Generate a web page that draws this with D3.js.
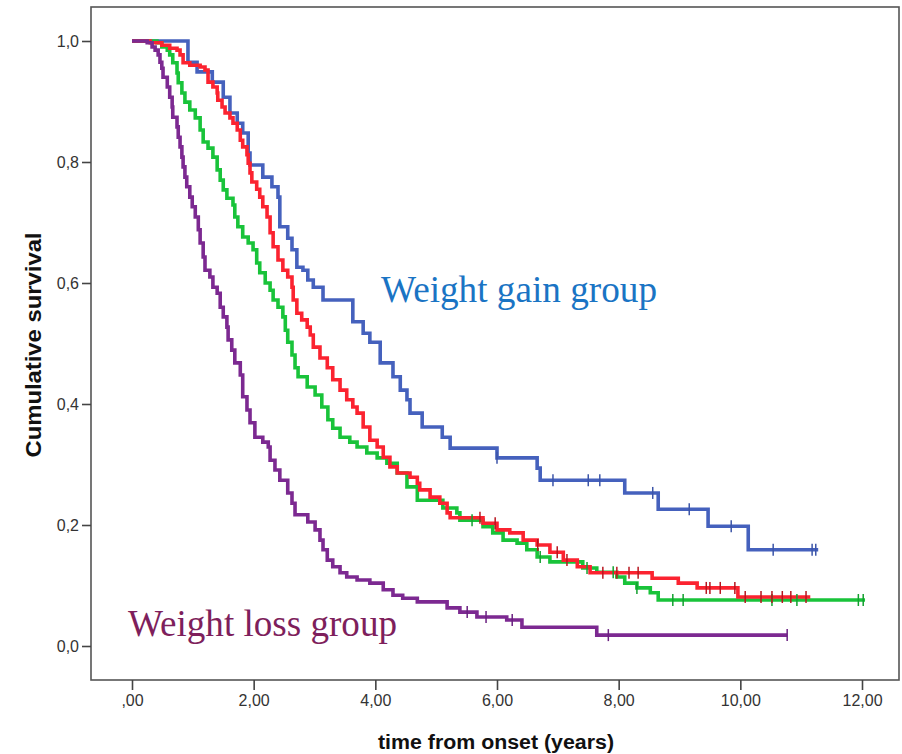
<!DOCTYPE html>
<html lang="en">
<head>
  <meta charset="utf-8">
  <title>Kaplan-Meier weight groups</title>
  <script src="https://cdn.jsdelivr.net/npm/d3@7"></script>
  <style>
    body { margin: 0; background: #fff; }
    svg { display: block; }
  </style>
</head>
<body>
<script>
// tick values and labels
const xTicks = [0, 2, 4, 6, 8, 10, 12];
const xTickLabels = [",00", "2,00", "4,00", "6,00", "8,00", "10,00", "12,00"];
const yTicks = [0, 0.2, 0.4, 0.6, 0.8, 1.0];
const yTickLabels = ["0,0", "0,2", "0,4", "0,6", "0,8", "1,0"];

// step points [time, survival]
const gainSteps = [
  [0, 1], [0.92, 0.965], [1.07, 0.949], [1.32, 0.932], [1.50, 0.907], [1.61, 0.881],
  [1.73, 0.864], [1.82, 0.848], [1.91, 0.815], [1.94, 0.795], [2.15, 0.775], [2.30, 0.759],
  [2.40, 0.742], [2.43, 0.693], [2.56, 0.674], [2.63, 0.655], [2.71, 0.626], [2.81, 0.621],
  [2.89, 0.605], [2.98, 0.593], [3.14, 0.572], [3.63, 0.536], [3.80, 0.517], [3.91, 0.502],
  [4.08, 0.468], [4.29, 0.445], [4.41, 0.423], [4.52, 0.407], [4.57, 0.385], [4.77, 0.362],
  [5.10, 0.345], [5.23, 0.327], [6.00, 0.311], [6.66, 0.294], [6.71, 0.274], [8.10, 0.253],
  [8.65, 0.226], [9.47, 0.198], [10.13, 0.159], [11.28, 0.159]
];
const gainCensored = [6.00, 6.92, 7.50, 7.69, 8.56, 9.16, 9.85, 10.54, 11.18, 11.24];

const midSteps = [
  [0, 1], [0.30, 0.997], [0.49, 0.993], [0.62, 0.988], [0.74, 0.985], [0.79, 0.977],
  [0.84, 0.964], [0.95, 0.960], [1.12, 0.957], [1.20, 0.952], [1.25, 0.932], [1.33, 0.924],
  [1.40, 0.914], [1.41, 0.902], [1.48, 0.891], [1.53, 0.881], [1.61, 0.873], [1.66, 0.864],
  [1.73, 0.853], [1.78, 0.836], [1.82, 0.825], [1.89, 0.812], [1.91, 0.798], [1.94, 0.782],
  [1.97, 0.767], [2.05, 0.755], [2.10, 0.742], [2.15, 0.726], [2.22, 0.709], [2.27, 0.683],
  [2.32, 0.660], [2.40, 0.638], [2.48, 0.621], [2.56, 0.610], [2.63, 0.593], [2.65, 0.572],
  [2.71, 0.550], [2.79, 0.539], [2.88, 0.527], [2.93, 0.514], [2.98, 0.494], [3.09, 0.476],
  [3.21, 0.460], [3.30, 0.440], [3.42, 0.423], [3.53, 0.407], [3.63, 0.395], [3.70, 0.385],
  [3.80, 0.362], [3.91, 0.340], [4.03, 0.329], [4.13, 0.312], [4.24, 0.296], [4.36, 0.286],
  [4.57, 0.279], [4.69, 0.269], [4.73, 0.258], [4.90, 0.246], [5.06, 0.236], [5.18, 0.220],
  [5.23, 0.212], [5.77, 0.203], [6.00, 0.192], [6.21, 0.187], [6.43, 0.175], [6.66, 0.167],
  [6.87, 0.155], [7.09, 0.142], [7.32, 0.131], [7.53, 0.121], [8.55, 0.112], [8.98, 0.104],
  [9.29, 0.096], [9.96, 0.081], [11.15, 0.081]
];
const midCensored = [5.72, 5.97, 6.67, 6.99, 7.15, 7.74, 7.97, 8.17, 8.32, 9.44, 9.50,
  9.67, 9.91, 10.08, 10.34, 10.52, 10.69, 10.83, 11.08];

const stableSteps = [
  [0, 1], [0.41, 0.997], [0.49, 0.990], [0.58, 0.985], [0.62, 0.977], [0.67, 0.964],
  [0.74, 0.947], [0.76, 0.931], [0.82, 0.914], [0.87, 0.899], [0.95, 0.886], [1.04, 0.873],
  [1.12, 0.853], [1.17, 0.833], [1.25, 0.823], [1.33, 0.808], [1.40, 0.787], [1.45, 0.770],
  [1.50, 0.754], [1.56, 0.740], [1.66, 0.729], [1.69, 0.709], [1.74, 0.693], [1.82, 0.676],
  [1.91, 0.666], [1.99, 0.655], [2.05, 0.633], [2.10, 0.617], [2.19, 0.600], [2.27, 0.588],
  [2.32, 0.572], [2.40, 0.560], [2.48, 0.544], [2.52, 0.522], [2.56, 0.502], [2.63, 0.481],
  [2.68, 0.460], [2.73, 0.445], [2.88, 0.428], [3.01, 0.415], [3.12, 0.395], [3.22, 0.374],
  [3.30, 0.360], [3.42, 0.345], [3.58, 0.337], [3.70, 0.329], [3.86, 0.319], [4.03, 0.311],
  [4.19, 0.302], [4.36, 0.286], [4.52, 0.263], [4.69, 0.241], [5.11, 0.228], [5.34, 0.220],
  [5.39, 0.208], [5.77, 0.197], [5.93, 0.187], [6.10, 0.175], [6.33, 0.170], [6.49, 0.159],
  [6.66, 0.147], [6.87, 0.139], [7.41, 0.129], [7.64, 0.122], [7.97, 0.114], [8.10, 0.104],
  [8.30, 0.096], [8.52, 0.088], [8.65, 0.076], [12.05, 0.076]
];
const stableCensored = [5.59, 6.71, 7.48, 7.91, 8.30, 8.89, 9.06, 10.52, 10.93, 11.94, 12.02];

const lossSteps = [
  [0, 1], [0.25, 0.997], [0.33, 0.990], [0.38, 0.985], [0.43, 0.977], [0.46, 0.965],
  [0.49, 0.955], [0.51, 0.940], [0.58, 0.924], [0.62, 0.907], [0.66, 0.891], [0.67, 0.874],
  [0.74, 0.858], [0.76, 0.841], [0.79, 0.825], [0.82, 0.808], [0.84, 0.792], [0.87, 0.775],
  [0.90, 0.759], [0.95, 0.742], [0.99, 0.726], [1.04, 0.709], [1.09, 0.688], [1.12, 0.666],
  [1.17, 0.643], [1.20, 0.621], [1.28, 0.610], [1.33, 0.593], [1.40, 0.583], [1.45, 0.560],
  [1.50, 0.544], [1.56, 0.527], [1.58, 0.506], [1.64, 0.489], [1.69, 0.468], [1.78, 0.448],
  [1.82, 0.412], [1.89, 0.390], [1.94, 0.369], [2.02, 0.345], [2.15, 0.337], [2.24, 0.329],
  [2.27, 0.307], [2.35, 0.291], [2.43, 0.274], [2.56, 0.253], [2.63, 0.236], [2.68, 0.217],
  [2.89, 0.205], [3.01, 0.192], [3.09, 0.175], [3.14, 0.159], [3.21, 0.142], [3.30, 0.131],
  [3.42, 0.121], [3.53, 0.114], [3.70, 0.109], [3.91, 0.104], [4.13, 0.093], [4.29, 0.084],
  [4.45, 0.079], [4.69, 0.073], [5.18, 0.063], [5.39, 0.056], [5.67, 0.048], [6.16, 0.043],
  [6.41, 0.031], [7.64, 0.018], [10.77, 0.018]
];
const lossCensored = [5.51, 5.82, 6.25, 7.83, 10.77];

const groups = [
  { steps: gainSteps, censored: gainCensored, color: "#4561bd", tick: "#3c55a8" },
  { steps: stableSteps, censored: stableCensored, color: "#19c33a", tick: "#13a02f" },
  { steps: midSteps, censored: midCensored, color: "#fb2330", tick: "#b8161f" },
  { steps: lossSteps, censored: lossCensored, color: "#7c2991", tick: "#6a2080" }
];

const w = 902;
const h = 754;
const frame = { left: 91, top: 7, right: 899, bottom: 680 };

const xScale = d3.scaleLinear().domain([0, 12]).range([132, 862]);
const yScale = d3.scaleLinear().domain([0, 1]).range([646, 41]);

const svg = d3.select("body").append("svg")
  .attr("width", w)
  .attr("height", h)
  .style("font-family", "'Liberation Sans', Arial, sans-serif");

// plot frame
svg.append("rect")
  .attr("x", frame.left)
  .attr("y", frame.top)
  .attr("width", frame.right - frame.left)
  .attr("height", frame.bottom - frame.top)
  .attr("fill", "none")
  .attr("stroke", "#555")
  .attr("stroke-width", 1.6);

// axes
const xAxis = d3.axisBottom(xScale)
  .tickValues(xTicks)
  .tickSize(10)
  .tickPadding(5)
  .tickFormat((d, i) => xTickLabels[i]);
const gx = svg.append("g")
  .attr("transform", "translate(0," + frame.bottom + ")")
  .call(xAxis);
gx.select(".domain").remove();

const yAxis = d3.axisLeft(yScale)
  .tickValues(yTicks)
  .tickSize(9)
  .tickPadding(3)
  .tickFormat((d, i) => yTickLabels[i]);
const gy = svg.append("g")
  .attr("transform", "translate(" + frame.left + ",0)")
  .call(yAxis);
gy.select(".domain").remove();

svg.selectAll(".tick line").attr("stroke", "#444").attr("stroke-width", 1.6);
svg.selectAll(".tick text")
  .attr("fill", "#333")
  .style("font-size", "16px")
  .style("font-family", "'Liberation Sans', Arial, sans-serif");

// axis titles
svg.append("text")
  .attr("x", 496)
  .attr("y", 749)
  .attr("text-anchor", "middle")
  .attr("font-weight", "bold")
  .attr("font-size", 20)
  .attr("textLength", 236)
  .attr("lengthAdjust", "spacingAndGlyphs")
  .attr("fill", "#111")
  .text("time from onset (years)");

svg.append("text")
  .attr("transform", "translate(41,345) rotate(-90)")
  .attr("text-anchor", "middle")
  .attr("font-weight", "bold")
  .attr("font-size", 22)
  .attr("textLength", 225)
  .attr("lengthAdjust", "spacingAndGlyphs")
  .attr("fill", "#111")
  .text("Cumulative survival");

// survival curves
const line = d3.line()
  .x(d => xScale(d[0]))
  .y(d => yScale(d[1]))
  .curve(d3.curveStepAfter);

// survival value at a given time
function survivalAt(steps, t) {
  let s = steps[0][1];
  for (const p of steps) {
    if (p[0] <= t) s = p[1];
  }
  return s;
}

groups.forEach(g => {
  svg.append("path")
    .datum(g.steps)
    .attr("d", line)
    .attr("fill", "none")
    .attr("stroke", g.color)
    .attr("stroke-width", 3.6)
    .attr("stroke-linejoin", "miter");
});

groups.forEach(g => {
  svg.append("g")
    .selectAll("line")
    .data(g.censored)
    .enter()
    .append("line")
    .attr("x1", d => xScale(d))
    .attr("x2", d => xScale(d))
    .attr("y1", d => yScale(survivalAt(g.steps, d)) - 6)
    .attr("y2", d => yScale(survivalAt(g.steps, d)) + 6)
    .attr("stroke", g.tick)
    .attr("stroke-width", 1.5);
});

// group labels
svg.append("text")
  .attr("x", 381)
  .attr("y", 302)
  .attr("font-family", "'Liberation Serif', 'Times New Roman', serif")
  .attr("font-size", 37)
  .attr("textLength", 276)
  .attr("lengthAdjust", "spacingAndGlyphs")
  .attr("fill", "#1a74c4")
  .text("Weight gain group");

svg.append("text")
  .attr("x", 128)
  .attr("y", 636)
  .attr("font-family", "'Liberation Serif', 'Times New Roman', serif")
  .attr("font-size", 37)
  .attr("textLength", 269)
  .attr("lengthAdjust", "spacingAndGlyphs")
  .attr("fill", "#7e1f5c")
  .text("Weight loss group");
</script>
</body>
</html>
